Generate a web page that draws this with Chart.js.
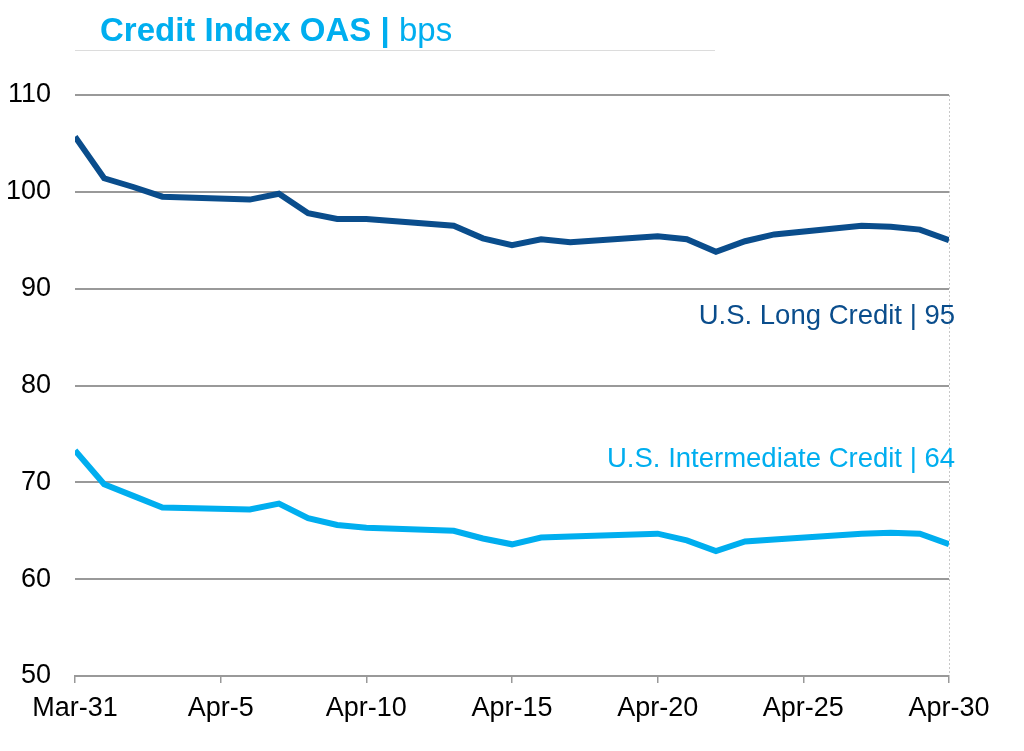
<!DOCTYPE html>
<html>
<head>
<meta charset="utf-8">
<script src="https://cdn.jsdelivr.net/npm/chart.js@4/dist/chart.umd.min.js"></script>
<style>
  html, body { margin: 0; padding: 0; background: #fff; }
  #wrap { position: relative; width: 1024px; height: 751px; }
  #title {
    position: absolute; left: 75px; top: 9px; width: 640px; height: 42px;
    border-bottom: 1px solid #dcdcdc;
    font-family: "Liberation Sans", Arial, sans-serif; font-size: 33px; color: #00aeef;
    padding-left: 25px; box-sizing: border-box; line-height: 42px;
  }
  #title b { font-weight: bold; }
  canvas { position: absolute; left: 0; top: 0; }
</style>
</head>
<body>
<div id="wrap">
  <canvas id="oasChart" width="1024" height="751"></canvas>
  <div id="title"><b>Credit Index OAS |</b> bps</div>
</div>
<script>
// 営業日（3/31からの日数）
const days = [0, 1, 2, 3, 6, 7, 8, 9, 10, 13, 14, 15, 16, 17, 20, 21, 22, 23, 24, 27, 28, 29, 30];

// U.S. Long Credit OAS (bps)
const longCredit = [105.7, 101.4, 100.5, 99.5, 99.2, 99.8, 97.8, 97.2, 97.2, 96.5, 95.2, 94.5,
  95.1, 94.8, 95.4, 95.1, 93.8, 94.9, 95.6, 96.5, 96.4, 96.1, 95.0];

// U.S. Intermediate Credit OAS (bps)
const intermediateCredit = [73.3, 69.8, 68.6, 67.4, 67.2, 67.8, 66.3, 65.6, 65.3, 65.0, 64.2, 63.6,
  64.3, 64.4, 64.7, 64.0, 62.9, 63.9, 64.1, 64.7, 64.8, 64.7, 63.6];

// x軸ラベル（5日ごと）
const tickLabels = ['Mar-31', 'Apr-5', 'Apr-10', 'Apr-15', 'Apr-20', 'Apr-25', 'Apr-30'];

const seriesLabels = ['U.S. Long Credit | 95', 'U.S. Intermediate Credit | 64'];

const DARK = '#0a4d8c';
const LIGHT = '#00aeef';
const FONT = '"Liberation Sans", Arial, sans-serif';

// 右端の点線と系列ラベル
const extras = {
  id: 'extras',
  afterDraw(chart) {
    const ctx = chart.ctx;
    const area = chart.chartArea;
    const y = chart.scales.y;
    ctx.save();
    ctx.strokeStyle = '#c8c8c8';
    ctx.lineWidth = 1;
    ctx.setLineDash([2, 2]);
    ctx.beginPath();
    ctx.moveTo(area.right + 0.5, area.top);
    ctx.lineTo(area.right + 0.5, area.bottom);
    ctx.stroke();
    ctx.setLineDash([]);

    ctx.font = '27.5px ' + FONT;
    ctx.textAlign = 'right';
    ctx.textBaseline = 'middle';
    ctx.fillStyle = DARK;
    ctx.fillText(seriesLabels[0], area.right + 6, y.getPixelForValue(87.1));
    ctx.fillStyle = LIGHT;
    ctx.fillText(seriesLabels[1], area.right + 6, y.getPixelForValue(72.4));
    ctx.restore();
  }
};

document.addEventListener('DOMContentLoaded', function() {
  const ctx = document.getElementById('oasChart').getContext('2d');

  new Chart(ctx, {
    type: 'line',
    data: {
      datasets: [
        {
          label: 'U.S. Long Credit',
          data: days.map((d, i) => ({ x: d, y: longCredit[i] })),
          borderColor: DARK,
          borderWidth: 6,
          pointRadius: 0,
          tension: 0
        },
        {
          label: 'U.S. Intermediate Credit',
          data: days.map((d, i) => ({ x: d, y: intermediateCredit[i] })),
          borderColor: LIGHT,
          borderWidth: 6,
          pointRadius: 0,
          tension: 0
        }
      ]
    },
    options: {
      responsive: false,
      animation: false,
      layout: { padding: { top: 95, right: 75, bottom: 0, left: 0 } },
      plugins: {
        legend: { display: false },
        tooltip: { enabled: false }
      },
      scales: {
        x: {
          type: 'linear',
          min: 0,
          max: 30,
          afterFit: axis => { axis.height = 75; },
          ticks: {
            stepSize: 5,
            autoSkip: false,
            maxRotation: 0,
            padding: 9,
            color: '#000',
            font: { family: FONT, size: 27 },
            callback: v => tickLabels[v / 5]
          },
          grid: {
            drawOnChartArea: false,
            drawTicks: true,
            tickLength: 7,
            color: '#999',
            lineWidth: 1.5
          },
          border: { display: true, color: '#999', width: 2 }
        },
        y: {
          min: 50,
          max: 110,
          afterFit: axis => { axis.width = 75; },
          ticks: {
            stepSize: 10,
            padding: 24,
            color: '#000',
            font: { family: FONT, size: 27 }
          },
          grid: {
            drawTicks: false,
            color: '#999',
            lineWidth: 2
          },
          border: { display: false }
        }
      }
    },
    plugins: [extras]
  });
});
</script>
</body>
</html>
